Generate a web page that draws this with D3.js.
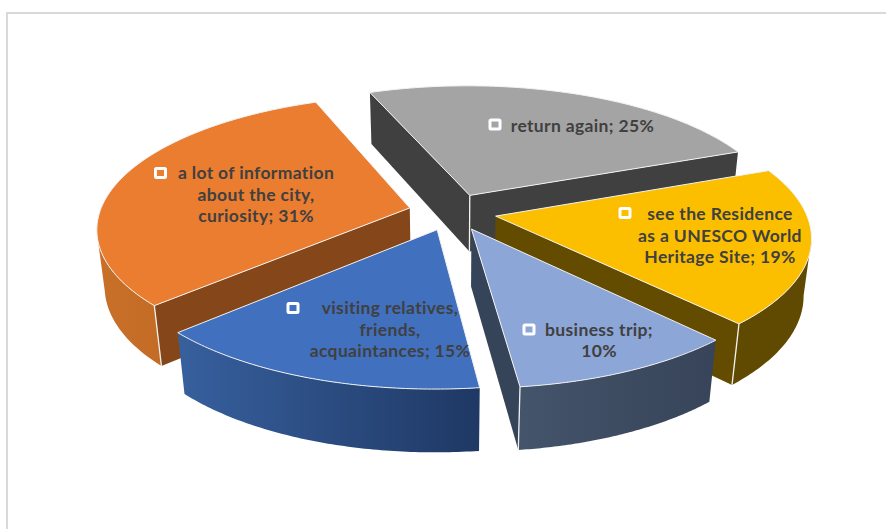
<!DOCTYPE html>
<html>
<head>
<meta charset="utf-8">
<script src="https://cdn.jsdelivr.net/npm/d3@7"></script>
<style>
	html, body { margin: 0; background: #fff; }
	svg { display: block; }
	.label { font-family: Lato, 'Open Sans', sans-serif; font-weight: 700; font-size: 17.5px; letter-spacing: 0.35px; fill: #404040; text-anchor: middle; }
</style>
</head>
<body>
<div id="chart"></div>
<script>
let width = 886
let height = 529

let categories = ['return again', 'see the Residence as a UNESCO World Heritage Site', 'business trip', 'visiting relatives, friends, acquaintances', 'a lot of information about the city, curiosity']
let shares = [25, 19, 10, 15, 31]
let labelLines = [
	['return again; 25%'],
	['see the Residence', 'as a UNESCO World', 'Heritage Site; 19%'],
	['business trip;', '10%'],
	['visiting relatives,', 'friends,', 'acquaintances; 15%'],
	['a lot of information', 'about the city,', 'curiosity; 31%'],
]

let topColors = ['#a4a4a4', '#fbbf00', '#8ca6d8', '#4170bf', '#eb7d30']
let wallColors = ['#404040', '#634c00', '#364459', '#2a4a80', '#85471a']
let rimFrom = ['#505050', '#604900', '#44546a', '#37609e', '#c86f28']
let rimTo = ['#404040', '#604900', '#374459', '#1f3864', '#c46c26']

// where each label block sits: centre of the text, first baseline, marker centre
let labelLayout = [
	{ x: 582.5, y: 131.5, mx: 495, my: 124.5 },
	{ x: 720, y: 220, mx: 625, my: 213 },
	{ x: 599, y: 335.5, mx: 529, my: 329.5 },
	{ x: 390, y: 314, mx: 293, my: 308 },
	{ x: 256, y: 179, mx: 160.5, my: 173 },
]

// fake 3d camera, u to the right, v towards the viewer, h down the side of the pie
let camera = {
	cx: 452.5,
	cy: 212,
	radius: 310,
	tilt: 0.42,
	depth: 0.147,
	thick: 58,
	shrink: 0.022,
	explode: 0.142,
}

let project = (u, v, h) => {
	let w = 1 - camera.depth * v + camera.shrink * h
	return [camera.cx + camera.radius * u / w, camera.cy + (camera.radius * camera.tilt * v + camera.thick * h) / w]
}

let pie = d3.pie()
	.value((d) => d)
	.sort(null)
	.startAngle(-21.4 * Math.PI / 180)
	.endAngle(338.6 * Math.PI / 180)

let line = d3.line()
let closed = (pts) => line(pts) + 'Z'

let slices = pie(shares).map((d) => {
	let mid = (d.startAngle + d.endAngle) / 2
	let ox = camera.explode * Math.sin(mid)
	let oy = -camera.explode * Math.cos(mid)
	let rim = (a, h) => project(ox + Math.sin(a), oy - Math.cos(a), h)
	let steps = d3.range(0, 81).map((t) => d3.interpolateNumber(d.startAngle, d.endAngle)(t / 80))
	return { index: d.index, oy, rim, steps, apex: (h) => project(ox, oy, h), start: d.startAngle, end: d.endAngle }
})

let svg = d3.select('#chart').append('svg')
	.attr('width', width)
	.attr('height', height)

let defs = svg.append('defs')

rimFrom.forEach((c, i) => {
	let grad = defs.append('linearGradient').attr('id', 'rim-' + i)
	grad.append('stop').attr('offset', 0).attr('stop-color', c)
	grad.append('stop').attr('offset', 1).attr('stop-color', rimTo[i])
})

// chart frame, only top and left show in the screenshot
svg.append('path')
	.attr('d', line([[7, height], [7, 13], [width, 13]]))
	.attr('fill', 'none')
	.attr('stroke', '#d9d9d9')
	.attr('stroke-width', 2)

let marks = svg.append('g')

// far slices first, near slices paint over them
slices.slice().sort((a, b) => a.oy - b.oy).forEach((s) => {
	let g = marks.append('g').attr('class', 'slice')
	let i = s.index

	// outer rim, only the part that turns towards the viewer
	let front = s.steps.filter((a) => s.rim(a + 0.01, 0)[0] < s.rim(a, 0)[0])
	if (front.length > 1) {
		let outer = front.map((a) => s.rim(a, 0)).concat(front.slice().reverse().map((a) => s.rim(a, 1)))
		g.append('path')
			.attr('d', closed(outer))
			.attr('fill', 'url(#rim-' + i + ')')
	}

	// cut walls
	let wall = (a) => [s.apex(0), s.rim(a, 0), s.rim(a, 1), s.apex(1)]
	let showStart = d3.polygonArea(wall(s.start)) > 0
	let showEnd = d3.polygonArea(wall(s.end)) < 0
	if (showStart) g.append('path').attr('d', closed(wall(s.start))).attr('fill', wallColors[i])
	if (showEnd) g.append('path').attr('d', closed(wall(s.end))).attr('fill', wallColors[i])

	// light ridges down the corners
	let ridge = (a, b) => g.append('path')
		.attr('d', line([a, b]))
		.attr('stroke', '#f2f2f2')
		.attr('stroke-width', 1.3)
	if (showStart && front.length > 1) ridge(s.rim(s.start, 0), s.rim(s.start, 1))
	if (showEnd && front.length > 1) ridge(s.rim(s.end, 0), s.rim(s.end, 1))
	if (showStart && showEnd) ridge(s.apex(0), s.apex(1))

	// top face
	let face = [s.apex(0)].concat(s.steps.map((a) => s.rim(a, 0)))
	g.append('path')
		.attr('d', closed(face))
		.attr('fill', topColors[i])
		.attr('stroke', '#f2f2f2')
		.attr('stroke-width', 1)
		.attr('stroke-linejoin', 'round')
})

let labels = svg.append('g')

labelLines.forEach((lines, i) => {
	let pos = labelLayout[i]
	labels.append('rect')
		.attr('x', pos.mx - 5)
		.attr('y', pos.my - 4.5)
		.attr('width', 10)
		.attr('height', 9)
		.attr('rx', 1)
		.attr('fill', topColors[i])
		.attr('stroke', '#fff')
		.attr('stroke-width', 3)
	lines.forEach((t, j) => {
		labels.append('text')
			.attr('class', 'label')
			.attr('x', pos.x)
			.attr('y', pos.y + j * 21.5)
			.text(t)
	})
})
</script>
</body>
</html>
